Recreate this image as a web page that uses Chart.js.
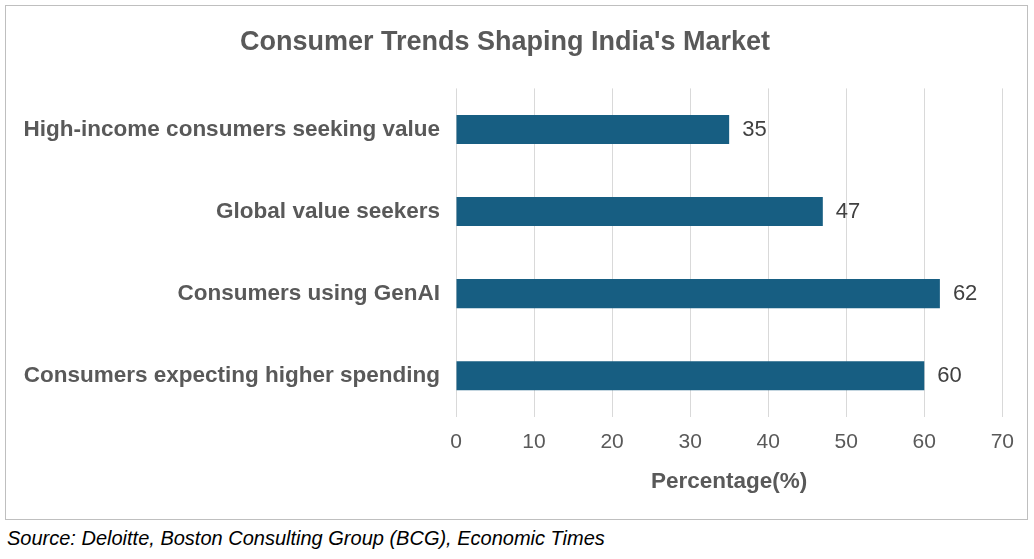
<!DOCTYPE html>
<html><head><meta charset="utf-8">
<script src="https://cdn.jsdelivr.net/npm/chart.js@4"></script>
<style>
body{margin:0;background:#fff;width:1034px;height:559px;position:relative;font-family:"Liberation Sans",Arial,sans-serif}
#box{position:absolute;left:5px;top:5px;width:1021px;height:513px;border:1px solid #bfbfbf}
#src{position:absolute;left:7px;top:527px;font-style:italic;font-size:20px;color:#000}
</style></head><body>
<div id="box"><canvas id="c" width="1021" height="513"></canvas></div>
<div id="src">Source: Deloitte, Boston Consulting Group (BCG), Economic Times</div>
<script>
const categories=["High-income consumers seeking value","Global value seekers","Consumers using GenAI","Consumers expecting higher spending"];
const values=[35,47,62,60];
const xTicks=[0,10,20,30,40,50,60,70];
const labelPlugin={id:'lbl',afterDatasetsDraw(ch){const c=ch.ctx;const m=ch.getDatasetMeta(0);c.save();c.font='22px "Liberation Sans",Arial';c.fillStyle='#404040';c.textBaseline='middle';m.data.forEach((b,i)=>{c.fillText(String(values[i]),b.x+13,b.y);});c.restore();}};
new Chart(document.getElementById('c'),{type:'bar',
data:{labels:categories,datasets:[{data:values,backgroundColor:'#175e82',categoryPercentage:1,barPercentage:0.355}]},
options:{indexAxis:'y',responsive:false,animation:false,
layout:{padding:{left:0,right:23,bottom:18,top:0}},
plugins:{legend:{display:false},tooltip:{enabled:false},
title:{display:true,text:"Consumer Trends Shaping India's Market",color:'#595959',font:{size:27,weight:'bold',family:'"Liberation Sans",Arial'},padding:{top:20,bottom:30}}},
scales:{
x:{min:0,max:70,afterBuildTicks(s){s.ticks=xTicks.map(v=>({value:v}));},
grid:{color:'#d9d9d9',drawTicks:false},border:{display:false},
ticks:{padding:13,color:'#595959',font:{size:21,family:'"Liberation Sans",Arial'}},
title:{display:true,text:'Percentage(%)',color:'#595959',font:{size:22.5,weight:'bold',family:'"Liberation Sans",Arial'},padding:{top:0,bottom:6}}},
y:{grid:{display:false,drawTicks:false},border:{display:false},afterFit(s){s.width=450;},
ticks:{padding:16,color:'#595959',font:{size:22.5,weight:'bold',family:'"Liberation Sans",Arial'}}}}},
plugins:[labelPlugin]});
</script></body></html>
